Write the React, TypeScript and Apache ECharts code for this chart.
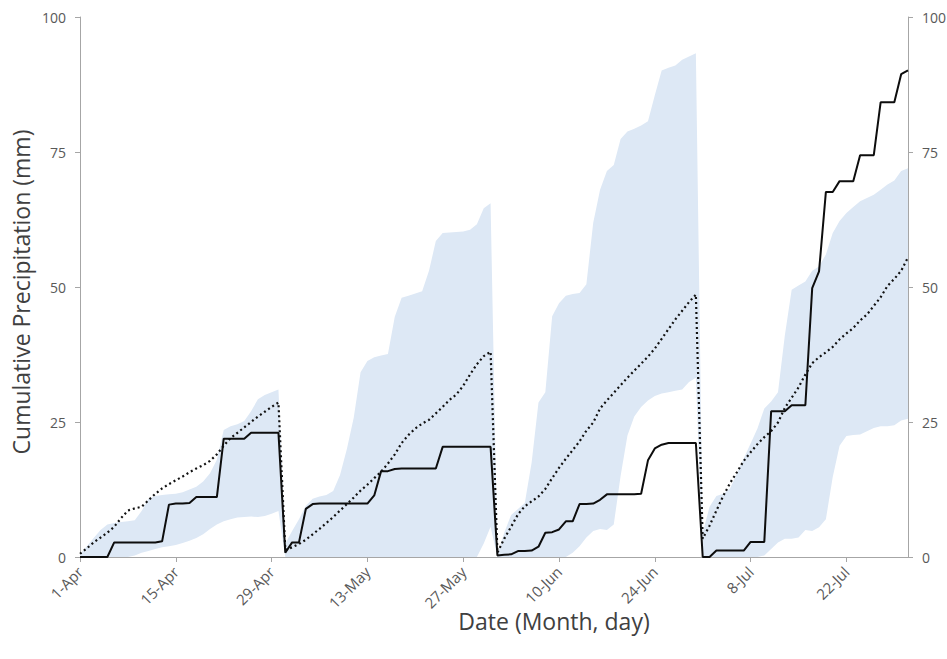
import React, { useEffect, useRef } from 'react';
import * as echarts from 'echarts';

const months = ['Apr', 'May', 'Jun', 'Jul'];
const monthLengths = [30, 31, 30, 31];
const categories: string[] = [];
months.forEach((m, i) => {
  for (let d = 1; d <= monthLengths[i]; d++) categories.push(`${d}-${m}`);
});

// Observed cumulative precipitation (solid line), per day 1-Apr .. 31-Jul
const observed = [
  // Apr
  0, 0, 0, 0, 0, 2.7, 2.7, 2.7, 2.7, 2.7, 2.7, 2.7, 2.9, 9.7, 9.9, 9.9, 10.0, 11.1, 11.1, 11.1, 11.1, 21.9, 21.9, 21.9, 21.9, 23.0, 23.0, 23.0, 23.0, 23.0,
  // May
  0.8, 2.7, 2.7, 8.9, 9.8, 9.9, 9.9, 9.9, 9.9, 9.9, 9.9, 9.9, 9.9, 11.4, 15.9, 15.9, 16.3, 16.4, 16.4, 16.4, 16.4, 16.4, 16.4, 20.4, 20.4, 20.4, 20.4, 20.4, 20.4, 20.4, 20.4,
  // Jun
  0.3, 0.4, 0.5, 1.1, 1.1, 1.2, 1.9, 4.5, 4.6, 5.1, 6.6, 6.6, 9.8, 9.8, 9.9, 10.6, 11.6, 11.6, 11.6, 11.6, 11.6, 11.7, 17.9, 20.1, 20.8, 21.1, 21.1, 21.1, 21.1, 21.1,
  // Jul
  0, 0, 1.2, 1.2, 1.2, 1.2, 1.2, 2.8, 2.8, 2.8, 27.0, 27.0, 27.0, 28.1, 28.1, 28.1, 49.8, 52.9, 67.6, 67.6, 69.6, 69.6, 69.6, 74.4, 74.4, 74.4, 84.2, 84.2, 84.2, 89.4, 90.1,
];

// Long-term mean cumulative precipitation (dotted line)
const mean = [
  // Apr
  0.6, 1.6, 2.7, 3.6, 4.5, 5.6, 7.2, 8.6, 9.0, 9.3, 10.5, 11.7, 12.7, 13.5, 14.2, 14.9, 15.7, 16.4, 17.0, 17.8, 19.0, 20.6, 22.0, 23.0, 24.0, 25.0, 26.0, 26.9, 27.8, 28.6,
  // May
  1.3, 1.8, 2.4, 3.2, 4.2, 5.2, 6.3, 7.4, 8.6, 9.8, 11.0, 12.3, 13.4, 14.6, 15.8, 17.3, 19.0, 21.1, 22.6, 23.8, 24.7, 25.4, 26.6, 27.8, 29.1, 30.1, 31.7, 33.8, 35.7, 37.2, 38.0,
  // Jun
  0.8, 3.4, 5.6, 7.9, 9.4, 10.3, 11.2, 12.6, 14.6, 16.5, 18.2, 19.8, 21.4, 23.4, 24.9, 27.5, 29.0, 30.4, 31.8, 33.2, 34.5, 35.8, 37.1, 38.6, 40.4, 42.2, 44.0, 45.6, 47.2, 48.6,
  // Jul
  3.4, 5.8, 8.6, 11.3, 13.7, 15.7, 17.8, 19.4, 20.9, 22.2, 23.3, 24.9, 27.6, 29.5, 31.4, 33.8, 35.9, 37.0, 37.9, 38.9, 40.3, 41.4, 42.4, 43.8, 44.9, 46.5, 48.1, 50.2, 51.5, 53.0, 55.5,
];

// Upper bound of the historical range (shaded band)
const upper = [
  // Apr
  0.5, 2.0, 3.5, 5.0, 6.0, 6.3, 6.5, 6.6, 6.8, 8.5, 10.8, 11.3, 11.5, 11.6, 11.7, 12.0, 12.5, 13.0, 14.0, 15.5, 18.0, 23.5, 24.2, 24.6, 25.2, 27.0, 29.2, 30.0, 30.5, 31.0,
  // May
  2.5, 4.8, 7.0, 9.5, 10.8, 11.2, 11.5, 12.2, 15.2, 20.0, 25.8, 34.2, 36.3, 37.0, 37.3, 37.6, 44.5, 48.0, 48.4, 48.8, 49.2, 53.0, 58.5, 60.0, 60.1, 60.2, 60.3, 60.6, 61.6, 64.6, 65.5,
  // Jun
  0.5, 4.5, 7.8, 8.9, 10.0, 17.5, 28.6, 30.5, 44.6, 47.0, 48.4, 48.7, 48.9, 50.5, 61.9, 68.0, 71.5, 72.6, 77.4, 78.8, 79.3, 79.9, 80.7, 85.5, 90.1, 90.6, 91.0, 92.1, 92.7, 93.3,
  // Jul
  4.5, 9.3, 11.3, 11.7, 12.7, 15.5, 18.3, 21.0, 23.8, 27.5, 28.8, 30.5, 41.0, 49.5, 50.3, 51.0, 53.0, 53.8, 56.0, 60.0, 62.2, 63.7, 64.8, 65.9, 66.5, 67.1, 68.0, 69.0, 69.7, 71.5, 72.0,
];

// Lower bound of the historical range (shaded band)
const lower = [
  // Apr
  0, 0, 0, 0, 0, 0, 0, 0, 0.3, 0.8, 1.1, 1.5, 1.8, 2.0, 2.2, 2.6, 3.0, 3.5, 4.2, 5.2, 6.0, 6.6, 7.0, 7.3, 7.4, 7.5, 7.4, 7.6, 8.0, 8.5,
  // May
  0, 0, 0, 0, 0, 0, 0, 0, 0, 0, 0, 0, 0, 0, 0, 0, 0, 0, 0, 0, 0, 0, 0, 0, 0, 0, 0, 0, 0, 2.5, 5.6,
  // Jun
  0, 0, 0, 0, 0, 0, 0, 0, 0, 0, 0, 0.8, 2.0, 3.6, 4.8, 5.2, 5.0, 6.0, 15.0, 22.5, 26.0, 27.8, 29.0, 29.8, 30.3, 30.5, 30.8, 31.0, 32.4, 33.2,
  // Jul
  0, 0, 0, 0, 0, 0, 0, 0, 0, 0.3, 1.5, 2.7, 3.4, 3.4, 3.6, 5.0, 4.8, 5.5, 7.0, 14.8, 20.6, 22.4, 22.6, 22.7, 23.3, 23.9, 24.2, 24.2, 24.4, 25.3, 25.6,
];

const yTicks = [0, 25, 50, 75, 100];
const yTitle = 'Cumulative Precipitation (mm)';
const xTitle = 'Date (Month, day)';

const FONT = '"Open Sans", "DejaVu Sans", sans-serif';
const AXIS_COLOR = '#a6a6a6';
const LABEL_COLOR = '#595959';

export default function App() {
  const ref = useRef<HTMLDivElement>(null);

  useEffect(() => {
    if (!ref.current) return;
    const chart = echarts.init(ref.current, null, { renderer: 'svg' });
    const range = upper.map((u, i) => +(u - lower[i]).toFixed(2));
    const yMin = yTicks[0];
    const yMax = yTicks[yTicks.length - 1];
    const yInterval = yTicks[1] - yTicks[0];

    const yAxisCommon = {
      type: 'value' as const,
      min: yMin,
      max: yMax,
      interval: yInterval,
      splitLine: { show: false },
      axisLine: { show: true, lineStyle: { color: AXIS_COLOR, width: 1 } },
      axisTick: { show: true, length: 5, lineStyle: { color: AXIS_COLOR } },
      axisLabel: { color: LABEL_COLOR, fontSize: 14, fontFamily: FONT, margin: 14 },
    };

    chart.setOption({
      animation: false,
      backgroundColor: '#ffffff',
      grid: { left: 80, right: 39, top: 17, bottom: 102, containLabel: false, outerBoundsMode: 'none' },
      xAxis: {
        type: 'category',
        data: categories,
        boundaryGap: false,
        axisLine: { show: true, lineStyle: { color: AXIS_COLOR, width: 1 } },
        axisTick: { show: true, interval: 13, length: 5, lineStyle: { color: AXIS_COLOR } },
        axisLabel: {
          interval: 13,
          rotate: 45,
          color: LABEL_COLOR,
          fontSize: 15,
          fontFamily: FONT,
          margin: 12,
        },
        splitLine: { show: false },
      },
      yAxis: [
        { ...yAxisCommon, position: 'left' },
        { ...yAxisCommon, position: 'right' },
      ],
      series: [
        {
          name: 'lower',
          type: 'line',
          stack: 'band',
          data: lower,
          symbol: 'none',
          lineStyle: { width: 0, opacity: 0 },
          silent: true,
          z: 1,
        },
        {
          name: 'range',
          type: 'line',
          stack: 'band',
          data: range,
          symbol: 'none',
          lineStyle: { width: 0, opacity: 0 },
          areaStyle: { color: '#dde8f5', opacity: 1 },
          silent: true,
          z: 1,
        },
        {
          name: 'mean',
          type: 'line',
          data: mean,
          symbol: 'none',
          lineStyle: { color: '#111111', width: 2.2, type: [2, 3] },
          z: 3,
        },
        {
          name: 'observed',
          type: 'line',
          data: observed,
          symbol: 'none',
          lineStyle: { color: '#0d0d0d', width: 2 },
          z: 4,
        },
      ],
      graphic: [
        {
          type: 'text',
          x: 21,
          y: 292,
          rotation: Math.PI / 2,
          style: {
            text: yTitle,
            fontSize: 23,
            fontFamily: FONT,
            fill: '#404040',
            align: 'center',
            verticalAlign: 'middle',
          },
        },
        {
          type: 'text',
          x: 554,
          y: 621,
          style: {
            text: xTitle,
            fontSize: 23,
            fontFamily: FONT,
            fill: '#404040',
            align: 'center',
            verticalAlign: 'middle',
          },
        },
      ],
    });

    return () => chart.dispose();
  }, []);

  return (
    <div
      ref={ref}
      style={{ position: 'fixed', left: 0, top: 0, width: 947, height: 659, background: '#fff' }}
    />
  );
}
